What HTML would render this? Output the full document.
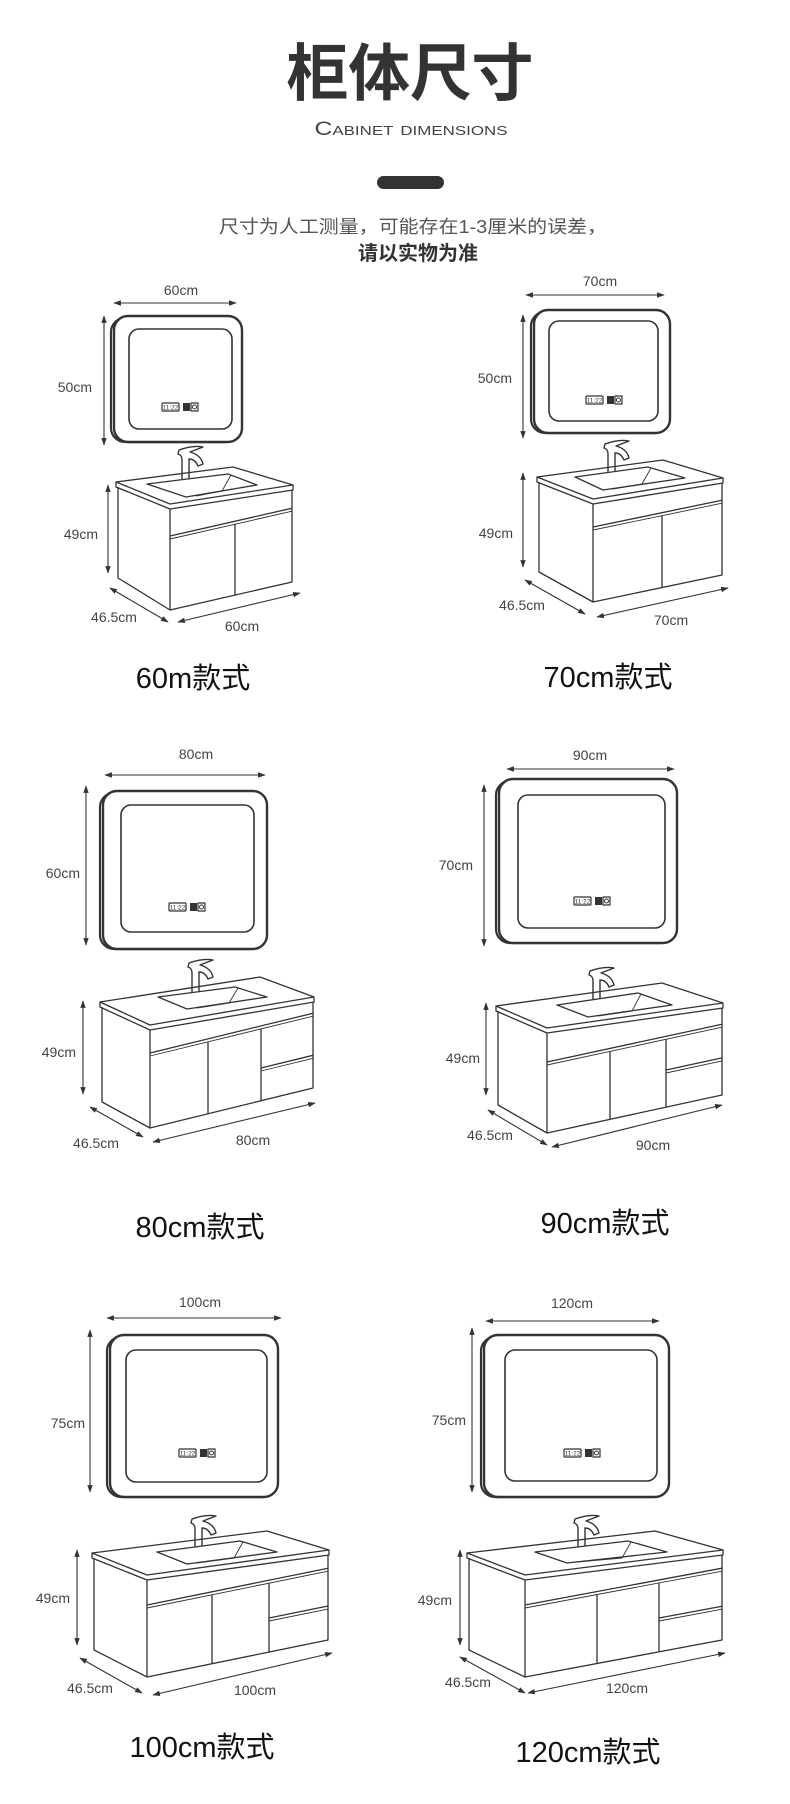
<!DOCTYPE html>
<html><head><meta charset="utf-8">
<style>
html,body{margin:0;padding:0;background:#fff;}
svg{display:block;}
.d{font-family:"Liberation Sans","DejaVu Sans",sans-serif;font-size:14px;fill:#444;}
.c{font-family:"Liberation Sans","Noto Sans CJK SC",sans-serif;font-size:29px;fill:#111;}
</style></head>
<body>
<svg id="s" width="790" height="1804" viewBox="0 0 790 1804" xmlns="http://www.w3.org/2000/svg">
<defs>
<marker id="a" viewBox="0 0 10 10" refX="9" refY="5" markerWidth="7" markerHeight="7" orient="auto-start-reverse"><path d="M0,1.5 L10,5 L0,8.5 z" fill="#333"/></marker>
</defs>
<text x="410" y="95" text-anchor="middle" font-family="'Noto Sans CJK SC',sans-serif" font-weight="bold" font-size="62" fill="#333" textLength="247">柜体尺寸</text>
<text x="411" y="135" text-anchor="middle" font-family="'Liberation Sans',sans-serif" font-size="19" fill="#444" style="font-variant:small-caps" textLength="193" lengthAdjust="spacingAndGlyphs">Cabinet dimensions</text>
<rect x="377" y="176" width="67" height="13" rx="6.5" fill="#333"/>
<text x="413" y="233" text-anchor="middle" font-family="'Liberation Sans','Noto Sans CJK SC',sans-serif" font-size="18" fill="#555" textLength="388" lengthAdjust="spacingAndGlyphs">尺寸为人工测量，可能存在1-3厘米的误差，</text>
<text x="418" y="260" text-anchor="middle" font-family="'Noto Sans CJK SC',sans-serif" font-weight="bold" font-size="20" fill="#333">请以实物为准</text>

<text class="d" x="181" y="295" text-anchor="middle">60cm</text>
<text class="d" x="92" y="392" text-anchor="end">50cm</text>
<text class="d" x="98" y="539" text-anchor="end">49cm</text>
<text class="d" x="114" y="622" text-anchor="middle">46.5cm</text>
<text class="d" x="242" y="631" text-anchor="middle">60cm</text>
<text class="c" x="193" y="688" text-anchor="middle">60m款式</text>
<text class="d" x="600" y="286" text-anchor="middle">70cm</text>
<text class="d" x="512" y="383" text-anchor="end">50cm</text>
<text class="d" x="513" y="538" text-anchor="end">49cm</text>
<text class="d" x="522" y="610" text-anchor="middle">46.5cm</text>
<text class="d" x="671" y="625" text-anchor="middle">70cm</text>
<text class="c" x="608" y="687" text-anchor="middle">70cm款式</text>
<text class="d" x="196" y="759" text-anchor="middle">80cm</text>
<text class="d" x="80" y="878" text-anchor="end">60cm</text>
<text class="d" x="76" y="1057" text-anchor="end">49cm</text>
<text class="d" x="96" y="1148" text-anchor="middle">46.5cm</text>
<text class="d" x="253" y="1145" text-anchor="middle">80cm</text>
<text class="c" x="200" y="1237" text-anchor="middle">80cm款式</text>
<text class="d" x="590" y="760" text-anchor="middle">90cm</text>
<text class="d" x="473" y="870" text-anchor="end">70cm</text>
<text class="d" x="480" y="1063" text-anchor="end">49cm</text>
<text class="d" x="490" y="1140" text-anchor="middle">46.5cm</text>
<text class="d" x="653" y="1150" text-anchor="middle">90cm</text>
<text class="c" x="605" y="1233" text-anchor="middle">90cm款式</text>
<text class="d" x="200" y="1307" text-anchor="middle">100cm</text>
<text class="d" x="85" y="1428" text-anchor="end">75cm</text>
<text class="d" x="70" y="1603" text-anchor="end">49cm</text>
<text class="d" x="90" y="1693" text-anchor="middle">46.5cm</text>
<text class="d" x="255" y="1695" text-anchor="middle">100cm</text>
<text class="c" x="202" y="1757" text-anchor="middle">100cm款式</text>
<text class="d" x="572" y="1308" text-anchor="middle">120cm</text>
<text class="d" x="466" y="1425" text-anchor="end">75cm</text>
<text class="d" x="452" y="1605" text-anchor="end">49cm</text>
<text class="d" x="468" y="1687" text-anchor="middle">46.5cm</text>
<text class="d" x="627" y="1693" text-anchor="middle">120cm</text>
<text class="c" x="588" y="1762" text-anchor="middle">120cm款式</text>
<g id="g" fill="none" stroke="#333" stroke-width="1.3" stroke-linejoin="round"></g>
</svg>
<script>
var g=document.getElementById('g'),h='';
function ln(a,b,c,d,e){h+='<line x1="'+a+'" y1="'+b+'" x2="'+c+'" y2="'+d+'"'+(e||'')+'/>';}
function ar(a,b,c,d){ln(a,b,c,d,' marker-start="url(#a)" marker-end="url(#a)" stroke-width="1.1"');}
function pg(p,e){h+='<polygon points="'+p.map(function(q){return q.join(',')}).join(' ')+'"'+(e||'')+'/>';}
function pl(p,e){h+='<polyline points="'+p.map(function(q){return q.join(',')}).join(' ')+'"'+(e||'')+'/>';}
function mirror(x1,y1,x2,y2,i1,j1,i2,j2,bx,by){
 h+='<rect x="'+(x1-3)+'" y="'+(y1+2)+'" width="'+(x2-x1)+'" height="'+(y2-y1-2)+'" rx="14" stroke-width="2.2"/>';
 h+='<rect x="'+x1+'" y="'+y1+'" width="'+(x2-x1)+'" height="'+(y2-y1)+'" rx="14" stroke-width="2.4" fill="#fff"/>';
 h+='<rect x="'+i1+'" y="'+j1+'" width="'+(i2-i1)+'" height="'+(j2-j1)+'" rx="10" stroke-width="1.6"/>';
 h+='<rect x="'+(bx-19)+'" y="'+(by-4)+'" width="17" height="8" rx="1" stroke-width="1.2"/>';
 h+='<text x="'+(bx-10.5)+'" y="'+(by+2.5)+'" font-size="6.5" text-anchor="middle" fill="#333" stroke="none" font-family="Liberation Sans">11:22</text>';
 h+='<rect x="'+(bx+2)+'" y="'+(by-4)+'" width="7" height="8" fill="#333" stroke="none"/>';
 h+='<rect x="'+(bx+10)+'" y="'+(by-4)+'" width="7" height="8" stroke-width="1.2"/>';
 h+='<circle cx="'+(bx+13.5)+'" cy="'+by+'" r="2" stroke-width="1"/>';
}
function cab(o){
 var L=o.L,R=o.R,F=o.F,s=(o.yRB-o.yFB)/(R-F);
 function y(base,x){return base+s*(x-F);}
 var fx=o.fx,fb=o.fb,ft=o.ft;
 h+='<path d="M'+(fx-5)+','+fb+' L'+(fx-5)+','+(ft+10)+' Q'+(fx-5)+','+(ft+5)+' '+(fx-9)+','+(ft+4)+' L'+(fx-8)+','+ft+' Q'+(fx+6)+','+(ft-5)+' '+(fx+16)+','+(ft-3)+' L'+(fx+3)+','+(ft+2)+' Q'+(fx+14)+','+(ft+5)+' '+(fx+16)+','+(ft+14)+' L'+(fx+11)+','+(ft+16)+' Q'+(fx+8)+','+(ft+9)+' '+(fx+2)+','+(ft+9)+' L'+(fx+2)+','+fb+' Z" fill="#fff" stroke-width="1.4"/>';
 h+='<circle cx="'+(fx-1)+'" cy="'+(fb+3)+'" r="1.8" fill="#333" stroke="none"/>';
 pg([[L,o.yA],[o.B,o.yB],[R,o.yC],[F,o.yF]],' fill="none"');
 pl([[L,o.yA],[L,o.yA+5],[F,o.yF+5],[R,o.yC+5],[R,o.yC]]);
 pg(o.basin,' fill="#fff"');
 pl([[o.basin[1][0]+3,o.basin[1][1]+1],[o.basin[1][0]-6,o.basin[2][1]+6],[o.basin[3][0]+10,o.basin[3][1]-1]],' stroke-width="0.9"');
 pl([[L+2,o.yA+5],[L+2,o.yBL],[F,o.yFB],[R-1,o.yRB],[R-1,o.yC+5]]);
 ln(F,o.yF+5,F,o.yFB);
 var d=o.yF+5+o.h1;
 ln(F,d,R-1,y(d,R-1));ln(F,d+3,R-1,y(d+3,R-1),' stroke-width="0.9"');
 o.div.forEach(function(x){ln(x,y(d+3,x),x,y(o.yFB,x));});
 if(o.col){ln(o.col,y(d+3,o.col),o.col,y(o.yFB,o.col));
  var m=o.colMid;ln(o.col,m,R-1,m+s*(R-1-o.col));ln(o.col,m+3,R-1,m+3+s*(R-1-o.col),' stroke-width="0.9"');}
}
mirror(114,316,242,442,129,329,232,429,181,407);
ar(114,303,236,303);ar(104,316,104,445);ar(108,485,108,573);ar(110,588,168,622);ar(178,622,300,593);
cab({L:116,yA:482,B:233,yB:467,R:293,yC:485,F:170,yF:504,yBL:578,yFB:610,yRB:582,h1:27,div:[235],basin:[[147,484],[228,474],[257,485],[186,497]],fx:187,fb:481,ft:450});
mirror(534,310,670,433,549,321,658,421,605,400);
ar(526,295,664,295);ar(523,315,523,438);ar(523,473,523,567);ar(525,580,585,614);ar(597,617,728,588);
cab({L:537,yA:477,B:663,yB:460,R:723,yC:478,F:593,yF:499,yBL:572,yFB:602,yRB:575,h1:23,div:[662],basin:[[575,477],[648,467],[685,478],[603,490]],fx:613,fb:473,ft:444});
mirror(103,791,267,949,121,805,254,932,188,907);
ar(105,775,265,775);ar(86,786,86,945);ar(83,1001,83,1094);ar(90,1107,143,1137);ar(153,1142,315,1103);
cab({L:100,yA:1002,B:260,yB:977,R:314,yC:997,F:150,yF:1025,yBL:1102,yFB:1128,yRB:1088,h1:23,div:[208],col:261,colMid:1068,basin:[[158,997],[235,987],[267,997],[187,1009]],fx:197,fb:993,ft:963});
mirror(499,779,677,943,518,795,665,928,593,901);
ar(507,769,674,769);ar(484,785,484,946);ar(486,1003,486,1095);ar(488,1110,547,1145);ar(552,1147,722,1105);
cab({L:496,yA:1006,B:662,yB:983,R:723,yC:1003,F:547,yF:1028,yBL:1105,yFB:1133,yRB:1095,h1:29,div:[610],col:666,colMid:1070,basin:[[557,1005],[638,993],[672,1005],[588,1017]],fx:598,fb:1000,ft:971});
mirror(110,1335,278,1497,126,1350,267,1482,198,1453);
ar(107,1318,281,1318);ar(90,1330,90,1492);ar(77,1550,77,1645);ar(80,1658,142,1693);ar(153,1695,332,1653);
cab({L:92,yA:1553,B:267,yB:1531,R:329,yC:1550,F:147,yF:1575,yBL:1650,yFB:1677,yRB:1640,h1:25,div:[212],col:269,colMid:1618,basin:[[157,1552],[240,1541],[277,1552],[187,1564]],fx:200,fb:1548,ft:1519});
mirror(484,1335,669,1497,505,1350,657,1481,583,1453);
ar(486,1321,659,1321);ar(472,1328,472,1492);ar(460,1550,460,1645);ar(460,1657,525,1693);ar(528,1693,725,1653);
cab({L:467,yA:1553,B:655,yB:1531,R:723,yC:1550,F:525,yF:1575,yBL:1650,yFB:1677,yRB:1640,h1:25,div:[597],col:659,colMid:1618,basin:[[535,1552],[628,1541],[667,1552],[567,1563]],fx:583,fb:1548,ft:1519});
g.innerHTML=h;
</script>
</body></html>
